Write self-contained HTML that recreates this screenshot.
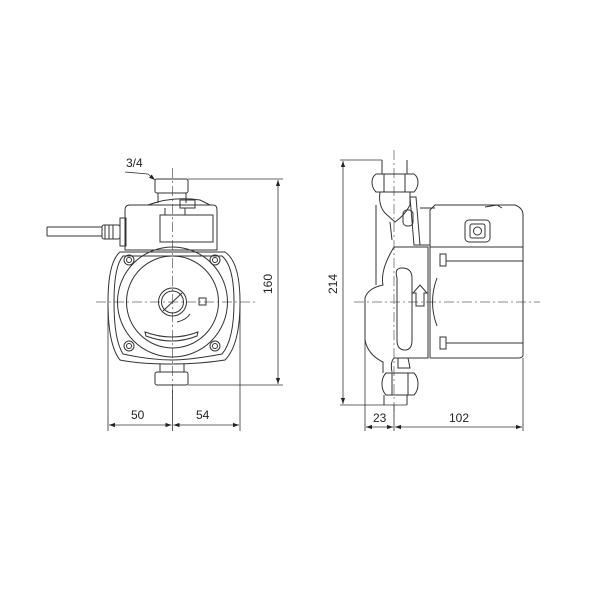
<!DOCTYPE html>
<html><head><style>
html,body{margin:0;padding:0;background:#fff;width:615px;height:611px;overflow:hidden}
svg{display:block}
text{font-family:"Liberation Sans",sans-serif;font-size:12px;fill:#222}
</style></head><body>
<svg width="615" height="611" viewBox="0 0 615 611" xmlns="http://www.w3.org/2000/svg">
<defs>
<marker id="a" viewBox="0 0 10 10" refX="10" refY="5" markerWidth="8" markerHeight="6" orient="auto-start-reverse" markerUnits="userSpaceOnUse"><path d="M0,1.5 L10,5 L0,8.5 z" fill="#222"/></marker>
</defs>
<g fill="none" stroke="#333" stroke-width="1">
<!-- LEFT VIEW -->
<!-- centre lines -->
<line x1="96" y1="302" x2="255" y2="302" stroke="#888" stroke-dasharray="10,3,2,3"/>
<line x1="172.5" y1="168" x2="172.5" y2="400" stroke="#888" stroke-dasharray="10,3,2,3"/>
<!-- top fitting -->
<rect x="155" y="179" width="33" height="14" rx="2"/>
<path d="M158 193 L158 203 M186 193 L186 203"/>
<!-- control box -->
<path d="M125 250 L125 210 Q125 205 130 205 L213 205 Q217 205 217 210 L217 250 Z"/>
<path d="M148 205 Q172 196 200 200 L210 205"/>
<rect x="160" y="215" width="53" height="27"/>
<rect x="120" y="218" width="6" height="28"/>
<path d="M165 208 L165 215 M185 208 L185 215 M180 200 L195 200 L195 208 L180 208 Z"/>
<!-- cable -->
<path d="M47 227 L102 227 M47 236 L102 236 M47 227 L47 236"/>
<rect x="102" y="225" width="18" height="14" rx="2"/>
<path d="M105 225 L105 239 M109 225 L109 239 M113 225 L113 239"/>
<!-- pump body -->
<path d="M120 252 L225 252 Q240 262 240 302 Q240 345 225 360 Q200 364 172 364 Q140 364 120 360 Q108 345 108 302 Q108 262 120 252 Z"/>
<path d="M123 256 L222 256 Q234 266 234 302 Q234 340 222 354 Q190 360 172 360 Q150 360 123 354 Q114 340 114 302 Q114 266 123 256 Z"/>
<circle cx="172.5" cy="302" r="55"/>
<circle cx="172.5" cy="302" r="46"/>
<circle cx="129" cy="260" r="5"/><circle cx="129" cy="260" r="2.5"/>
<circle cx="215" cy="260" r="5"/><circle cx="215" cy="260" r="2.5"/>
<circle cx="129" cy="346" r="5"/><circle cx="129" cy="346" r="2.5"/>
<circle cx="215" cy="346" r="5"/><circle cx="215" cy="346" r="2.5"/>
<circle cx="172.5" cy="302" r="14"/>
<circle cx="172.5" cy="302" r="11"/>
<line x1="163" y1="311" x2="182" y2="293"/>
<rect x="199" y="298" width="7" height="7"/>
<path d="M177 322 Q186 320 190 314"/>
<path d="M145 332 Q172 342 198 332 L197 336 Q172 346 146 336 Z"/>
<!-- bottom fitting -->
<rect x="155" y="372" width="33" height="13" rx="2"/>
<path d="M160 364 L160 372 M184 364 L184 372"/>
<!-- RIGHT VIEW -->
<line x1="354" y1="302" x2="540" y2="302" stroke="#888" stroke-dasharray="10,3,2,3"/>
<line x1="394" y1="150" x2="394" y2="420" stroke="#888" stroke-dasharray="10,3,2,3"/>
<!-- top pipe & nut -->
<path d="M382 160 L382 174 M407 160 L407 174"/>
<path d="M376 174 L414 174 Q418 177 418 182 Q418 188 414 192 L376 192 Q372 188 372 182 Q372 177 376 174 Z"/>
<path d="M384 174 L384 192 M405 174 L405 192"/>
<path d="M380 192 Q378 205 385 213 L395 222 Q405 215 410 205 L410 192"/>
<path d="M376 205 L376 285 M390 222 L392 240"/>
<!-- flange -->
<path d="M410 197 L416 197 L420 245 L414 245 Z"/>
<rect x="403" y="210" width="10" height="16" rx="4"/>
<!-- motor upper -->
<path d="M435 205 L515 205 Q523 208 523 215 L523 247 L430 247 L430 210 Z"/>
<path d="M420 208 L435 208 M420 245 L430 245"/>
<rect x="465" y="220" width="25" height="22" rx="4"/>
<rect x="470" y="224" width="15" height="14" rx="2"/>
<circle cx="477.5" cy="231" r="4"/>
<path d="M485 207 L497 205 L502 208"/>
<!-- motor body -->
<path d="M430 247 L523 247 L523 355 Q523 358 518 358 L430 358"/>
<path d="M430 247 L430 358"/>
<rect x="440" y="254" width="6" height="12"/>
<rect x="440" y="337" width="6" height="12"/>
<path d="M446 261 L523 261 M446 343 L523 343"/>
<path d="M437 278 Q428 302 437 326"/>
<!-- volute -->
<path d="M394 247 L428 247 L428 358 L394 358"/>
<path d="M402 268 Q394 268 397 278 L397 340 Q397 350 405 350 Q412 350 412 340 L412 278 Q412 268 402 268 Z"/>
<path d="M416 306 L416 293 L413 293 L420 285 L427 293 L424 293 L424 306 Z"/>
<path d="M394 247 Q380 270 383 285 Q368 288 365 298 L365 340 Q368 355 383 362 L383 373 M394 358 Q390 362 392 372"/>
<path d="M398 358 L408 358 L410 368 L398 368 Z"/>
<!-- bottom nut -->
<path d="M386 373 L414 373 Q418 377 418 384 Q418 391 414 395 L386 395 Q382 391 382 384 Q382 377 386 373 Z"/>
<path d="M392 373 L392 395 M408 373 L408 395"/>
<path d="M384 395 L384 405 M407 395 L407 405"/>
</g>
<!-- dimensions -->
<g stroke="#333" stroke-width="0.8" fill="none">
<!-- 3/4 leader -->
<path d="M125 172 L148 174" />
<line x1="148" y1="174" x2="155" y2="180" marker-end="url(#a)"/>
<!-- 160 -->
<path d="M188 179 L283 179 M188 385 L283 385"/>
<line x1="278" y1="180" x2="278" y2="384" marker-start="url(#a)" marker-end="url(#a)"/>
<!-- 50 / 54 -->
<path d="M108 302 L108 431 M172.5 390 L172.5 431 M240 302 L240 431"/>
<line x1="109" y1="425" x2="171.5" y2="425" marker-start="url(#a)" marker-end="url(#a)"/>
<line x1="173.5" y1="425" x2="239" y2="425" marker-start="url(#a)" marker-end="url(#a)"/>
<!-- 214 -->
<path d="M340 160 L382 160 M340 405 L407 405"/>
<line x1="343" y1="161" x2="343" y2="404" marker-start="url(#a)" marker-end="url(#a)"/>
<!-- 23 / 102 -->
<path d="M365 302 L365 431 M394 405 L394 431 M523 358 L523 431"/>
<line x1="366" y1="427" x2="393" y2="427" marker-start="url(#a)" marker-end="url(#a)"/>
<line x1="395" y1="427" x2="522" y2="427" marker-start="url(#a)" marker-end="url(#a)"/>
</g>
<text x="126" y="167">3/4</text>
<text x="131" y="419">50</text>
<text x="196" y="419">54</text>
<text x="373" y="422">23</text>
<text x="449" y="422">102</text>
<text transform="translate(272,284) rotate(-90)" text-anchor="middle">160</text>
<text transform="translate(337,284) rotate(-90)" text-anchor="middle">214</text>
</svg>
</body></html>
